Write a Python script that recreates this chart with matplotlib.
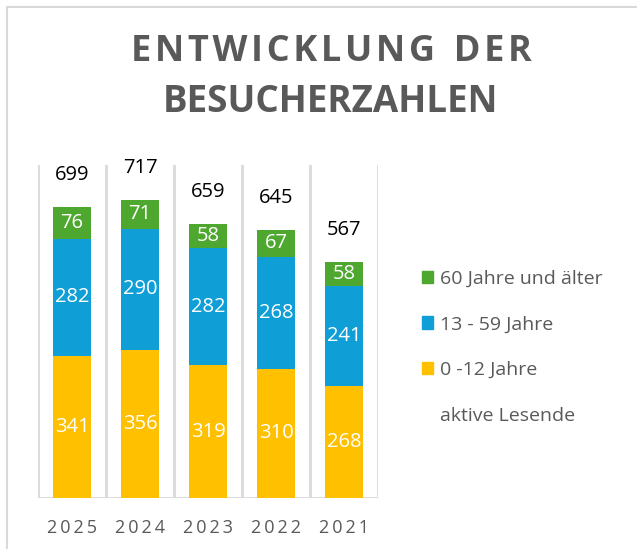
import matplotlib
matplotlib.use("Agg")
import matplotlib.pyplot as plt
from matplotlib.patches import Patch, Rectangle
import numpy as np

plt.rcParams['font.family'] = ['Open Sans', 'DejaVu Sans']

years = ["2025", "2024", "2023", "2022", "2021"]
kids = [341, 356, 319, 310, 268]          # 0 -12 Jahre
adults = [282, 290, 282, 268, 241]        # 13 - 59 Jahre
seniors = [76, 71, 58, 67, 58]            # 60 Jahre und älter
totals = [699, 717, 659, 645, 567]        # aktive Lesende

series_labels = ["0 -12 Jahre", "13 - 59 Jahre", "60 Jahre und älter", "aktive Lesende"]
c_yellow = "#FFC000"
c_blue = "#0F9ED5"
c_green = "#4EA72E"
grid_c = "#D9D9D9"
text_gray = "#595959"

fig = plt.figure(figsize=(6.37, 5.49), dpi=100)
W, H = 637, 549
# outer border
fig.patches.append(Rectangle((7/W, -0.1), 1.2, 1 - 7/H + 0.1, transform=fig.transFigure,
                             fill=False, edgecolor="#D9D9D9", linewidth=1.5))

ax = fig.add_axes([38/W, 1 - 498/H, (378-38)/W, (498-165)/H])
x = np.arange(len(years))
bw = 0.56
b1 = ax.bar(x, kids, bw, color=c_yellow, label=series_labels[0])
b2 = ax.bar(x, adults, bw, bottom=kids, color=c_blue, label=series_labels[1])
bottom3 = np.array(kids) + np.array(adults)
b3 = ax.bar(x, seniors, bw, bottom=bottom3, color=c_green, label=series_labels[2])

for bars, vals in [(b1, kids), (b2, adults), (b3, seniors)]:
    ax.bar_label(bars, labels=[str(v) for v in vals], label_type='center',
                 color='white', fontsize=14.5)

for xi, t in zip(x, totals):
    ax.annotate(str(t), (xi, t), xytext=(0, 32), textcoords='offset pixels',
                ha='center', va='center', fontsize=14.5, color='black')

ax.set_xlim(-0.5, len(years) - 0.5)
ax.set_ylim(0, 800)
for b in np.arange(-0.5, len(years), 1.0):
    ax.axvline(b, color=grid_c, linewidth=2, zorder=0)
ax.axhline(0, color=grid_c, linewidth=2, zorder=0)
for s in ax.spines.values():
    s.set_visible(False)
ax.set_yticks([])
ax.set_xticks(x)
ax.set_xticklabels(["\u2009".join(list(y)) for y in years], fontsize=13, color=text_gray)
ax.tick_params(axis='x', length=0, pad=15)

fig.text(331/W, 1 - 52/H, "E\u200aN\u200aT\u200aW\u200aI\u200aC\u200aK\u200aL\u200aU\u200aN\u200aG  D\u200aE\u200aR",
         ha='center', va='center', fontsize=26, fontweight='bold', color=text_gray)
fig.text(330/W, 1 - 102/H, "BESUCHERZAHLEN",
         ha='center', va='center', fontsize=26.5, fontweight='bold', color=text_gray)

handles = [Patch(color=c_green), Patch(color=c_blue), Patch(color=c_yellow), Patch(color='none')]
labels = [series_labels[2], series_labels[1], series_labels[0], series_labels[3]]
fig.legend(handles, labels, loc='upper left', bbox_to_anchor=(412/W, 1 - 260/H),
           frameon=False, fontsize=14, labelcolor=text_gray, handlelength=0.6, handleheight=0.6,
           handletextpad=0.35, labelspacing=1.42, borderpad=0)

fig.savefig("out.png", dpi=100)
